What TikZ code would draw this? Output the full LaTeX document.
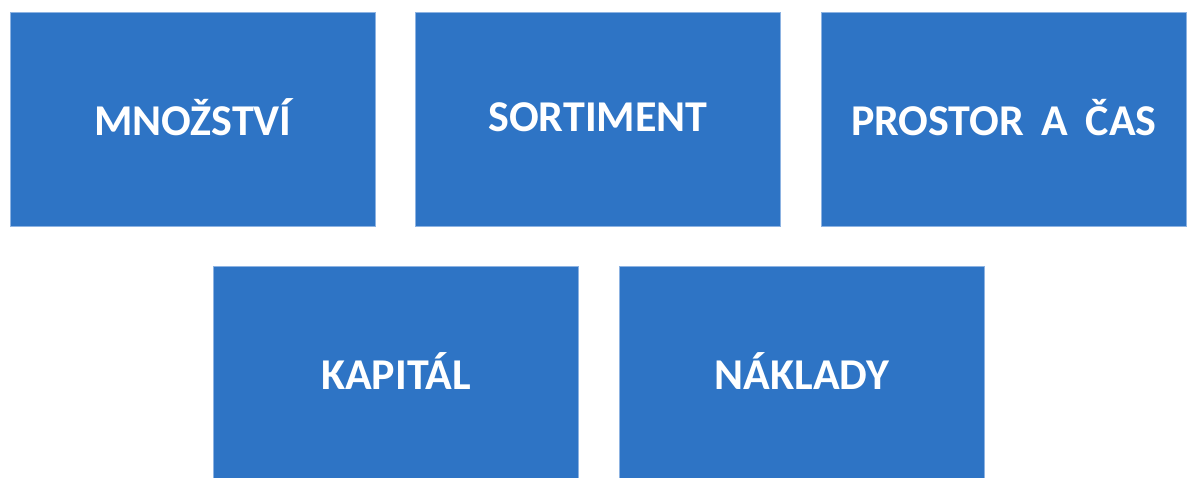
\documentclass[tikz,border=0pt]{standalone}
\usepackage{fontspec}
\setmainfont{Carlito}
\definecolor{boxblue}{HTML}{2E74C5}
\definecolor{boxedge}{HTML}{8DB3E2}
\newcommand{\lift}[1]{\raisebox{4pt}{#1}}
\begin{document}
\begin{tikzpicture}[x=1pt,y=-1pt,
  cell/.style={draw=boxedge, line width=0.8pt, fill=boxblue, minimum width=365pt, minimum height=214pt,
    inner sep=0pt, anchor=north west, text=white, font=\bfseries\fontsize{44}{50}\selectfont}]
\useasboundingbox (0,0) rectangle (1187,478);
\node[cell] (m) at (10,12) {\lift{MNOŽSTVÍ}};
\node[cell] (s) at (415,12) {\lift{SORTIMENT}};
\node[cell] (p) at (821,12) {\lift{PROSTOR\hspace{0.4em}A\hspace{0.4em}ČAS}};
\node[cell] (k) at (213,266) {\lift{KAPITÁL}};
\node[cell] (n) at (619,266) {\lift{NÁKLADY}};
\end{tikzpicture}
\end{document}
